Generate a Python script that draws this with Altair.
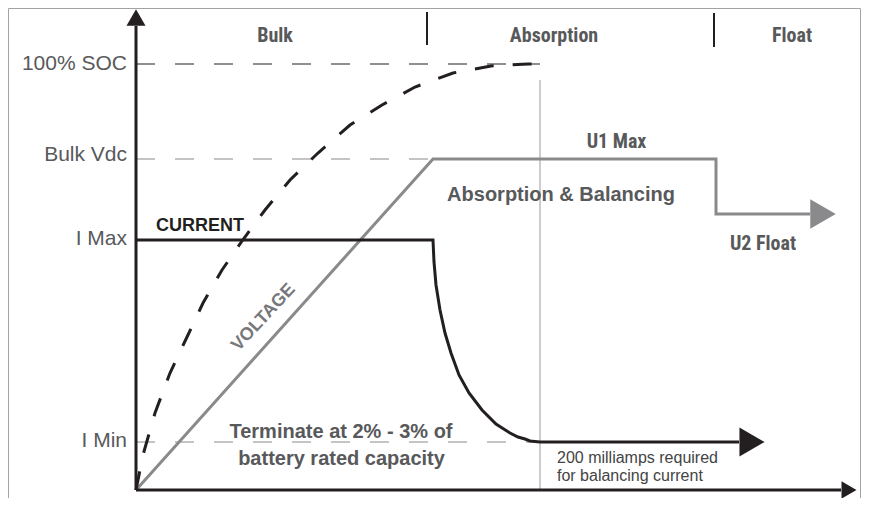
import altair as alt
import pandas as pd

INK = "#231f20"
GREY_TEXT = "#58595b"
GREY_LINE = "#8a8a8c"
NARROW = "Roboto Condensed, Noto Sans Condensed, Liberation Sans Narrow, Liberation Sans"
SANS = "Liberation Sans, Arial, Helvetica, sans-serif"

# ---------------- data (time units along x, level units along y) ----------------
level_names = ["100% SOC", "Bulk Vdc", "I Max", "I Min"]
level_values = [426, 331, 250, 48]
level_label_base = [420, 329, 245, 43]

phase_names = ["Bulk", "Absorption", "Float"]
phase_centers = [139, 418, 656]
phase_dividers = [291, 578]
phase_divider_top = [478, 477]
phase_divider_bottom = [445, 443]

soc_t = [0, 7, 19, 34, 51, 67, 86, 106, 129, 154, 182, 214, 246, 279, 317, 355, 392, 404]
soc_level = [0, 35, 77, 117, 153, 187, 220, 249, 280, 310, 337, 365, 385, 403, 417, 424, 426, 426]

voltage_t = [0, 297, 580, 580, 674]
voltage_level = [0, 331, 331, 276, 276]

current_t = [0, 297, 298, 300, 304, 309, 315, 323, 333, 346, 360, 374, 382, 389, 394, 404, 603]
current_level = [250, 250, 228, 205, 180, 157, 137, 115, 97, 80, 66, 57, 53, 51, 49, 48, 48]

absorption_marker_t = 404
absorption_marker_top = 410

axis_x_end = 705
axis_y_end = 464

# arrow heads: t, level, shape, size, colour
arrow_t = [0, 713, 616, 687]
arrow_level = [472.5, 0, 48, 276]
arrow_shape = ["triangle-up", "triangle-right", "triangle-right", "triangle-right"]
arrow_size = [361, 300, 841, 870]
arrow_color = [INK, INK, INK, GREY_LINE]

note_text = "200 milliamps required\nfor balancing current"

# ---------------- scales ----------------
xs = alt.Scale(domain=[-128, 725], nice=False, zero=False)
ys = alt.Scale(domain=[-8, 482], nice=False, zero=False)


def X(f="t"):
    return alt.X(f"{f}:Q", scale=xs, axis=None)


def Y(f="level"):
    return alt.Y(f"{f}:Q", scale=ys, axis=None)


def seg(df, color, width, dash=None):
    kw = dict(color=color, strokeWidth=width)
    if dash:
        kw["strokeDash"] = dash
    return alt.Chart(df).mark_rule(**kw).encode(
        x=X("t"), x2=alt.X2("t2:Q"), y=Y("level"), y2=alt.Y2("level2:Q")
    )


def line(ts, ls, color, width, dash=None):
    df = pd.DataFrame({"t": ts, "level": ls, "i": range(len(ts))})
    kw = dict(color=color, strokeWidth=width, strokeJoin="miter")
    if dash:
        kw["strokeDash"] = dash
    return alt.Chart(df).mark_line(**kw).encode(x=X(), y=Y(), order=alt.Order("i:Q"))


def text(rows, **kw):
    df = pd.DataFrame(rows, columns=["t", "level", "label"])
    return alt.Chart(df).mark_text(**kw).encode(x=X(), y=Y(), text=alt.Text("label:N"))


# frame
frame = seg(pd.DataFrame({
    "t": [-127.5, -127.5, 724.5], "t2": [-127.5, 724.5, 724.5],
    "level": [-8, 481.5, -8], "level2": [481.5, 481.5, 481.5]}), "#a3a3a3", 1)

# reference dashed lines
soc_ref = seg(pd.DataFrame({"t": [0], "t2": [404], "level": [426], "level2": [426]}), INK, 1.2, [19, 20])
grey_refs = seg(pd.DataFrame({"t": [0, 0], "t2": [297, 404], "level": [331, 48], "level2": [331, 48]}),
                GREY_LINE, 1.2, [19, 20])
abs_marker = seg(pd.DataFrame({"t": [absorption_marker_t], "t2": [absorption_marker_t],
                               "level": [0], "level2": [absorption_marker_top]}), "#9a9a9a", 1)

voltage = line(voltage_t, voltage_level, GREY_LINE, 3)
soc = line(soc_t, soc_level, INK, 3, [19, 19])
current = line(current_t, current_level, INK, 3)

axes = seg(pd.DataFrame({"t": [0, 0], "t2": [0, axis_x_end], "level": [0, 0],
                         "level2": [axis_y_end, 0]}), INK, 3)
dividers = seg(pd.DataFrame({"t": phase_dividers, "t2": phase_dividers,
                             "level": phase_divider_bottom, "level2": phase_divider_top}), INK, 2)

arrows = alt.Chart(pd.DataFrame({"t": arrow_t, "level": arrow_level, "shape": arrow_shape,
                                 "size": arrow_size, "color": arrow_color})).mark_point(
    filled=True, opacity=1, strokeWidth=0).encode(
    x=X(), y=Y(), shape=alt.Shape("shape:N", scale=None),
    size=alt.Size("size:Q", scale=None), color=alt.Color("color:N", scale=None))

left_labels = text([(-9, b, n) for n, b in zip(level_names, level_label_base)],
                   align="right", baseline="alphabetic", font=SANS, fontSize=21, color=GREY_TEXT)
phase_labels = text([(c, 448, n) for n, c in zip(phase_names, phase_centers)] +
                    [(480.5, 342, "U1 Max"), (627, 240, "U2 Float")],
                    align="center", baseline="alphabetic", font=NARROW, fontSize=20,
                    fontWeight="bold", color=GREY_TEXT)
bold_notes = text([(425, 289, "Absorption & Balancing"),
                   (205, 52, "Terminate at 2% - 3% of"),
                   (205.5, 25, "battery rated capacity")],
                  align="center", baseline="alphabetic", font=SANS, fontSize=20,
                  fontWeight="bold", color=GREY_TEXT)
current_label = text([(20, 259, "CURRENT")], align="left", baseline="alphabetic", font=SANS,
                     fontSize=18, fontWeight="bold", color=INK)
voltage_label = text([(127.5, 172.5, "VOLTAGE")], align="center", baseline="middle", font=SANS,
                     fontSize=18, fontWeight="bold", color="#77787b", angle=313)
small_notes = text([(421, 27, note_text)], align="left", baseline="alphabetic", font=SANS,
                   fontSize=16, lineHeight=18, lineBreak="\n", color="#444444")

chart = alt.layer(
    frame, soc_ref, grey_refs, abs_marker, voltage, soc, current, axes, dividers, arrows,
    left_labels, phase_labels, bold_notes, current_label, voltage_label, small_notes
).properties(
    width=853, height=490, padding=0, autosize=alt.AutoSizeParams(type="none"),
    background="white"
).configure_view(strokeWidth=0)

chart.save("out.html", embed_options={"renderer": "svg", "actions": False})
